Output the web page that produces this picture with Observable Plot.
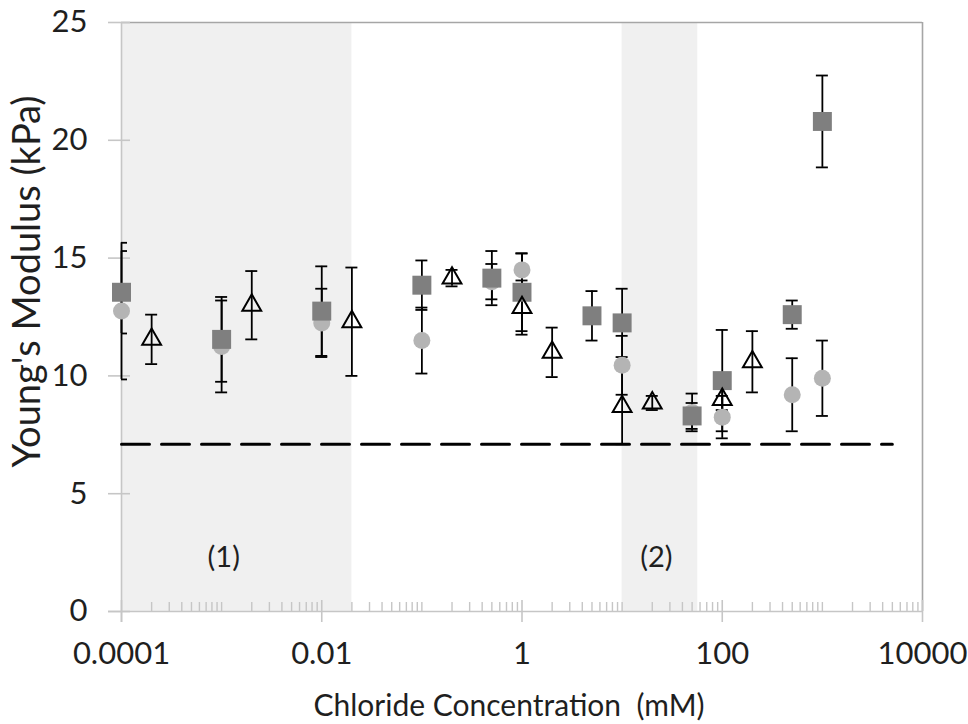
<!DOCTYPE html>
<html>
<head>
<meta charset="utf-8">
<script src="https://cdn.jsdelivr.net/npm/d3@7"></script>
<script src="https://cdn.jsdelivr.net/npm/@observablehq/plot@0.6"></script>
<style>
  html, body { margin: 0; padding: 0; background: #fff; }
  #chart { width: 968px; height: 724px; }
</style>
</head>
<body>
<div id="chart"></div>
<script>
// ---- Data ----
// Dark gray squares
const squareX   = [0.0001, 0.001, 0.01, 0.1, 0.5, 1, 5, 10, 50, 100, 500, 1000];
const squareY   = [13.55, 11.55, 12.75, 13.85, 14.15, 13.55, 12.55, 12.25, 8.3, 9.8, 12.6, 20.8];
const squareErr = [1.75, 1.8, 1.9, 1.05, 1.15, 1.65, 1.05, 1.45, 0.55, 2.15, 0.6, 1.95];
// Light gray circles
const circleX   = [0.0001, 0.001, 0.01, 0.1, 0.5, 1, 10, 50, 100, 500, 1000];
const circleY   = [12.75, 11.25, 12.25, 11.5, 14.0, 14.5, 10.45, 8.45, 8.25, 9.2, 9.9];
const circleErr = [2.9, 1.95, 1.45, 1.4, 0.75, 0.7, 1.25, 0.8, 0.9, 1.55, 1.6];
// Open triangles
const triX   = [0.0002, 0.002, 0.02, 0.2, 1, 2, 10, 20, 100, 200];
const triY   = [11.55, 13.0, 12.3, 14.15, 12.9, 11.0, 8.7, 8.85, 9.0, 10.6];
const triErr = [1.05, 1.45, 2.3, 0.35, 1.15, 1.05, 1.6, 0.3, 0.45, 1.3];
// Dashed reference line
const baselineX = [0.0001, 5000];
const baselineY = 7.1;
// Shaded regions and their labels
const regionStart = [0.0001, 10];
const regionEnd   = [0.02, 57];
const regionLabel = ["(1)", "(2)"];
const regionLabelX = [0.00105, 22];
const regionLabelY = [2.3, 2.3];
// Axes
const xMajor  = [0.0001, 0.01, 1, 100, 10000];
const xLabels = ["0.0001", "0.01", "1", "100", "10000"];
const yTicks  = [0, 5, 10, 15, 20, 25];
const xTitle = "Chloride Concentration  (mM)";
const yTitle = "Young's Modulus (kPa)";

// minor ticks: 1..9 x 10^k, excluding the labelled majors
const xMinor = [];
for (let k = -4; k < 4; k++) for (let n = 1; n <= 9; n++) {
  const v = +(n * Math.pow(10, k)).toPrecision(3);
  if (!xMajor.includes(v)) xMinor.push(v);
}

// ---- Tables for the library ----
const mk = (xs, ys, es, s) => xs.map((x, i) => ({x, y: ys[i], lo: ys[i] - es[i], hi: ys[i] + es[i], s}));
const squares = mk(squareX, squareY, squareErr, "square");
const circles = mk(circleX, circleY, circleErr, "circle");
const tris = mk(triX, triY, triErr, "triangle");
const allPts = [...tris, ...circles, ...squares];
const baseline = baselineX.map(x => ({x, y: baselineY}));
const regions = regionStart.map((a, i) => ({x1: a, x2: regionEnd[i]}));
const regionText = regionLabel.map((t, i) => ({t, x: regionLabelX[i], y: regionLabelY[i]}));

// ---- Layout ----
const W = 968, H = 724, mL = 121, mR = 46, mT = 22, mB = 113;
const plotW = W - mL - mR, plotH = H - mT - mB;
const axisGray = "#c6c6c6", borderGray = "#a6a6a6", textCol = "#1f1f1f";

const chart = Plot.plot({
  width: W, height: H,
  marginLeft: mL, marginRight: mR, marginTop: mT, marginBottom: mB,
  style: {fontFamily: "Lato", fontSize: "31px", background: "#fff", overflow: "visible"},
  x: {type: "log", domain: [1e-4, 1e4], axis: null},
  y: {domain: [0, 25], axis: null},
  marks: [
    Plot.rect(regions, {x1: "x1", x2: "x2", fill: "#f0f0f0"}),
    // frame: top & right border
    Plot.ruleY([25], {stroke: borderGray, strokeWidth: 1.6}),
    Plot.ruleX([1e4], {stroke: borderGray, strokeWidth: 1.6}),
    // y axis line and ticks
    Plot.ruleX([1e-4], {stroke: axisGray, strokeWidth: 1.6, insetBottom: -11}),
    Plot.tickY(yTicks, {y: d => d, stroke: axisGray, strokeWidth: 1.6, insetLeft: -13, insetRight: plotW - 9}),
    // x axis line and ticks
    Plot.ruleY([0], {stroke: axisGray, strokeWidth: 1.6, insetLeft: -13}),
    Plot.tickX(xMajor, {x: d => d, stroke: axisGray, strokeWidth: 1.6, insetTop: plotH - 11, insetBottom: -11}),
    Plot.tickX(xMinor, {x: d => d, stroke: axisGray, strokeWidth: 1.4, insetTop: plotH - 9}),
    // tick labels
    Plot.text(yTicks, {y: d => d, text: d => String(d), frameAnchor: "left", dx: -34, textAnchor: "end", lineAnchor: "middle", fill: textCol}),
    Plot.text(xMajor, {x: d => d, text: (d, i) => xLabels[i], frameAnchor: "bottom", dy: 42.5, textAnchor: "middle", lineAnchor: "middle", fill: textCol}),
    // titles
    Plot.text([xTitle], {frameAnchor: "bottom", dx: -13, dy: 95, textAnchor: "middle", lineAnchor: "middle", fontSize: 30, fill: textCol}),
    Plot.text([yTitle], {frameAnchor: "left", rotate: -90, dx: -94, dy: -35.5, textAnchor: "middle", lineAnchor: "middle", fontSize: 38, fill: textCol}),
    // region labels
    Plot.text(regionText, {x: "x", y: "y", text: "t", fontSize: 29, fill: textCol}),
    // dashed line
    Plot.line(baseline, {x: "x", y: "y", stroke: "#000", strokeWidth: 3, strokeDasharray: "28,12"}),
    // error bars
    Plot.ruleX(allPts, {x: "x", y1: "lo", y2: "hi", stroke: "#000", strokeWidth: 1.8}),
    Plot.ruleY(allPts, {y: "hi", x1: "x", x2: "x", insetLeft: -6, insetRight: -6, stroke: "#000", strokeWidth: 1.8, clip: true}),
    Plot.ruleY(allPts, {y: "lo", x1: "x", x2: "x", insetLeft: -6, insetRight: -6, stroke: "#000", strokeWidth: 1.8, clip: true}),
    // markers
    Plot.dot(circles, {x: "x", y: "y", r: 8.5, symbol: "circle", fill: "#b4b4b4"}),
    Plot.dot(squares, {x: "x", y: "y", r: 10.7, symbol: "square", fill: "#7f7f7f"}),
    Plot.dot(tris, {x: "x", y: "y", r: 7, symbol: "triangle", fill: "none", stroke: "#000", strokeWidth: 2})
  ]
});
document.getElementById("chart").appendChild(chart);
</script>
</body>
</html>
